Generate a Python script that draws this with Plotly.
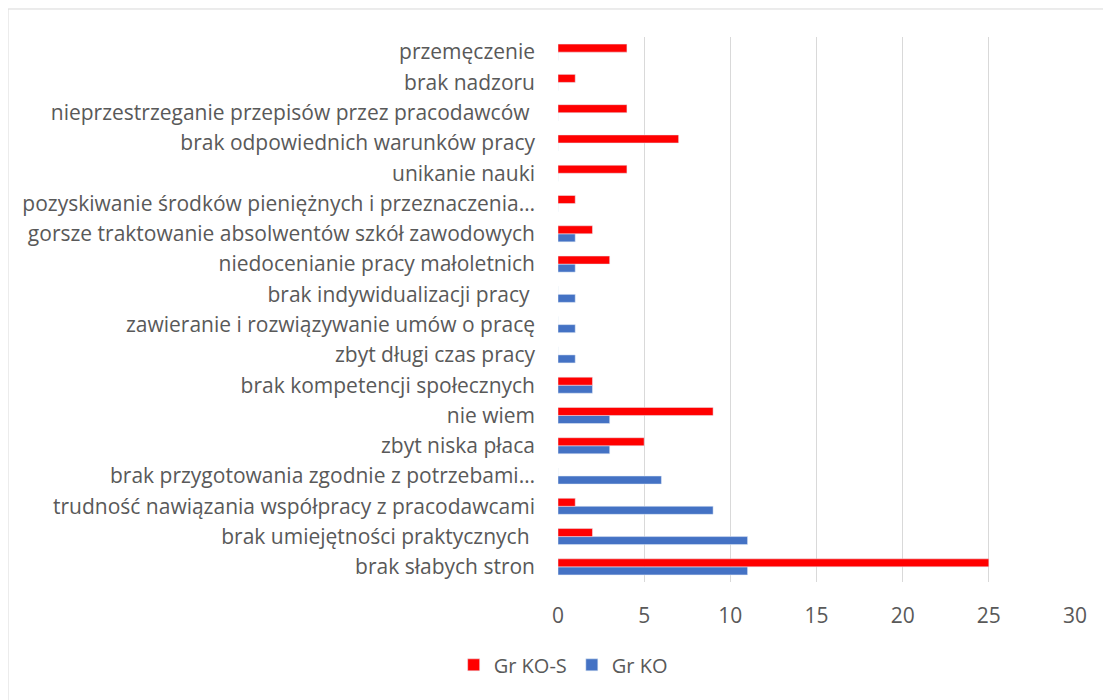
import plotly.graph_objects as go

# categories listed bottom to top
categories = [
    "brak słabych stron",
    "brak umiejętności praktycznych ",
    "trudność nawiązania współpracy z pracodawcami",
    "brak przygotowania zgodnie z potrzebami…",
    "zbyt niska płaca",
    "nie wiem",
    "brak kompetencji społecznych",
    "zbyt długi czas pracy",
    "zawieranie i rozwiązywanie umów o pracę",
    "brak indywidualizacji pracy ",
    "niedocenianie pracy małoletnich",
    "gorsze traktowanie absolwentów szkół zawodowych",
    "pozyskiwanie środków pieniężnych i przeznaczenia…",
    "unikanie nauki",
    "brak odpowiednich warunków pracy",
    "nieprzestrzeganie przepisów przez pracodawców ",
    "brak nadzoru",
    "przemęczenie",
]
gr_ko_s = [25, 2, 1, 0, 5, 9, 2, 0, 0, 0, 3, 2, 1, 4, 7, 4, 1, 4]
gr_ko = [11, 11, 9, 6, 3, 3, 2, 1, 1, 1, 1, 1, 0, 0, 0, 0, 0, 0]

fig = go.Figure()
# blue first so that it sits below the red bar in each group
fig.add_trace(go.Bar(y=categories, x=gr_ko, name="Gr KO", orientation="h",
                     marker=dict(color="#4472C4")))
fig.add_trace(go.Bar(y=categories, x=gr_ko_s, name="Gr KO-S", orientation="h",
                     marker=dict(color="#FF0000")))

# light chart border like the office chart frame
fig.add_shape(type="rect", xref="paper", yref="paper",
              x0=-1.0638, x1=1.3, y0=-0.3, y1=1.0514,
              line=dict(color="#d9d9d9", width=1), layer="below")

fig.update_layout(
    width=1103,
    height=692,
    margin=dict(l=550, r=36, t=29, b=118),
    paper_bgcolor="white",
    plot_bgcolor="white",
    barmode="group",
    bargap=0.47,
    bargroupgap=0,
    font=dict(family="Open Sans", size=21, color="#595959"),
    xaxis=dict(range=[0, 30], dtick=5, showgrid=True, gridcolor="#d9d9d9",
               gridwidth=1, zeroline=False, showline=False,
               ticks="", ticklabelstandoff=19,
               tickfont=dict(size=21, color="#595959")),
    yaxis=dict(type="category", showgrid=False, zeroline=False,
               showline=False, ticks="", ticklabelstandoff=22,
               tickfont=dict(size=21, color="#595959")),
    legend=dict(orientation="h", traceorder="reversed",
                x=0.01, xanchor="center", y=-0.152, yanchor="middle",
                font=dict(size=20, color="#595959")),
)

fig.write_html("out.html")
